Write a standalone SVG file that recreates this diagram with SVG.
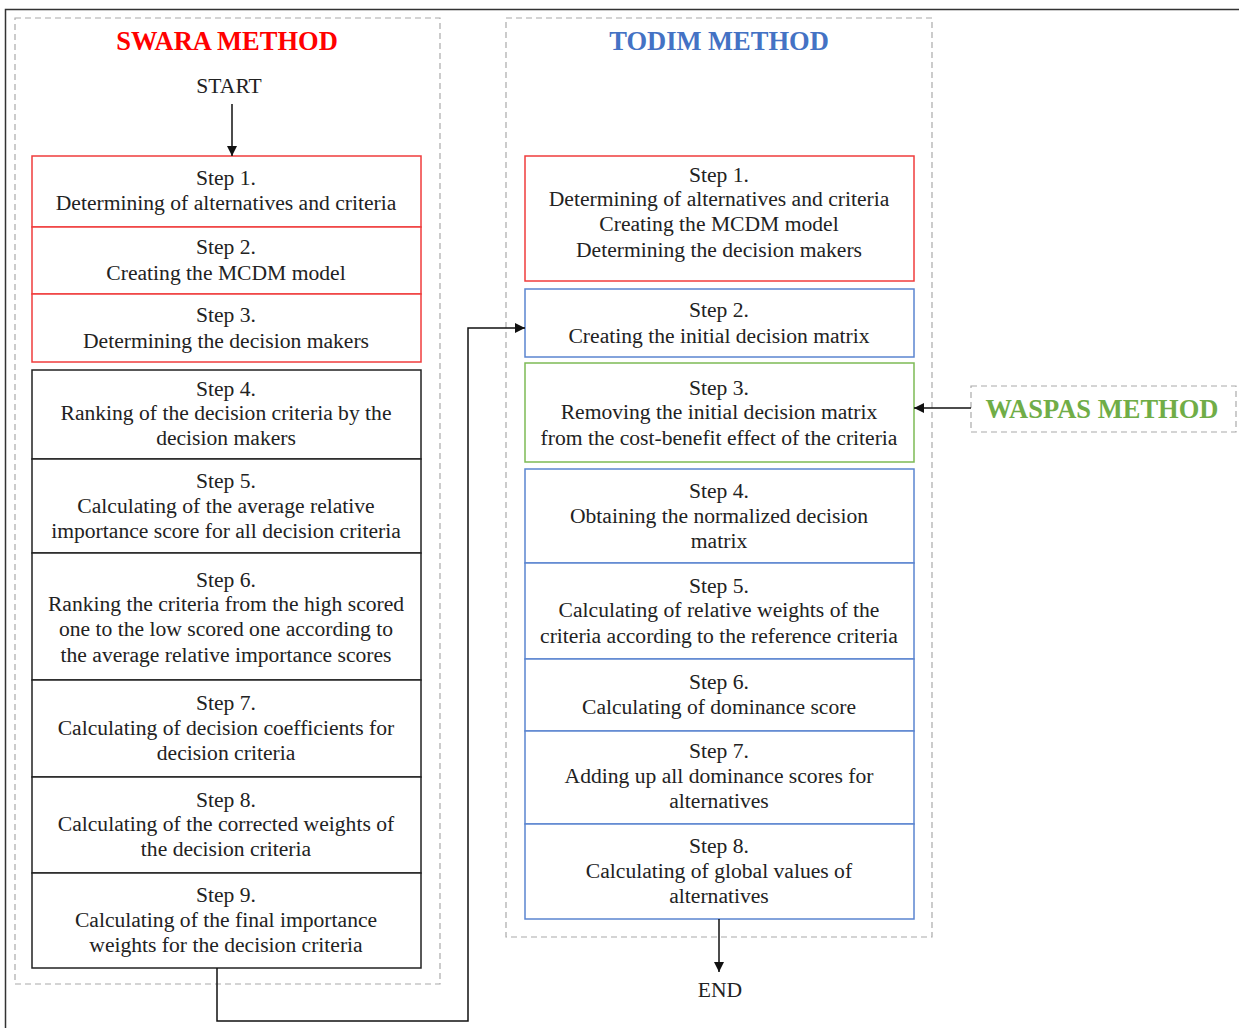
<svg xmlns="http://www.w3.org/2000/svg" width="1239" height="1028" viewBox="0 0 1239 1028">
<defs>
<style>
text{font-family:"Liberation Serif","Times New Roman",serif;font-size:21.6px;fill:#222;text-anchor:middle}
.title{font-weight:bold;font-size:26.5px}
.dash{fill:none;stroke:#aaa;stroke-width:1.2;stroke-dasharray:6,4}
.red{fill:#fff;stroke:#f03c3c;stroke-width:1.5}
.blk{fill:#fff;stroke:#222;stroke-width:1.5}
.blue{fill:#fff;stroke:#5b85d0;stroke-width:1.5}
.green{fill:#fff;stroke:#7dba55;stroke-width:1.5}
.conn{fill:none;stroke:#111;stroke-width:1.5}
</style>
<marker id="ah" viewBox="0 0 10 10" refX="10" refY="5" markerWidth="10" markerHeight="11" markerUnits="userSpaceOnUse" orient="auto">
<path d="M0,0 L10,5 L0,10 z" fill="#111"/>
</marker>
</defs>
<rect width="1239" height="1028" fill="#fff"/>
<path d="M5.5,1028 V9.5 H1239" fill="none" stroke="#333" stroke-width="1.5"/>

<g id="swara-container">
<rect class="dash" x="15" y="18" width="425" height="966"/>
<text class="title" x="227" y="50" style="fill:#ff0000">SWARA METHOD</text>
<text x="229" y="93">START</text>
</g>
<g id="todim-container">
<rect class="dash" x="506" y="18" width="426" height="919"/>
<text class="title" x="719" y="50" style="fill:#4472c4">TODIM METHOD</text>
</g>
<g id="waspas">
<rect class="dash" x="971" y="386" width="265" height="46"/>
<text class="title" x="1102" y="418" style="fill:#70ad47">WASPAS METHOD</text>
</g>

<g id="s1"><rect class="red" x="32" y="156" width="389" height="71"/><text x="226" y="185">Step 1.</text><text x="226" y="210">Determining of alternatives and criteria</text></g>
<g id="s2"><rect class="red" x="32" y="227" width="389" height="67"/><text x="226" y="254">Step 2.</text><text x="226" y="280">Creating the MCDM model</text></g>
<g id="s3"><rect class="red" x="32" y="294" width="389" height="68"/><text x="226" y="322">Step 3.</text><text x="226" y="348">Determining the decision makers</text></g>
<g id="s4"><rect class="blk" x="32" y="370" width="389" height="89"/><text x="226" y="396">Step 4.</text><text x="226" y="420">Ranking of the decision criteria by the</text><text x="226" y="445">decision makers</text></g>
<g id="s5"><rect class="blk" x="32" y="459" width="389" height="94"/><text x="226" y="488">Step 5.</text><text x="226" y="513">Calculating of the average relative</text><text x="226" y="538">importance score for all decision criteria</text></g>
<g id="s6"><rect class="blk" x="32" y="553" width="389" height="127"/><text x="226" y="587">Step 6.</text><text x="226" y="611">Ranking the criteria from the high scored</text><text x="226" y="636">one to the low scored one according to</text><text x="226" y="662">the average relative importance scores</text></g>
<g id="s7"><rect class="blk" x="32" y="680" width="389" height="97"/><text x="226" y="710">Step 7.</text><text x="226" y="735">Calculating of decision coefficients for</text><text x="226" y="760">decision criteria</text></g>
<g id="s8"><rect class="blk" x="32" y="777" width="389" height="96"/><text x="226" y="807">Step 8.</text><text x="226" y="831">Calculating of the corrected weights of</text><text x="226" y="856">the decision criteria</text></g>
<g id="s9"><rect class="blk" x="32" y="873" width="389" height="95"/><text x="226" y="902">Step 9.</text><text x="226" y="927">Calculating of the final importance</text><text x="226" y="952">weights for the decision criteria</text></g>

<g id="t1"><rect class="red" x="525" y="156" width="389" height="125"/><text x="719" y="182">Step 1.</text><text x="719" y="206">Determining of alternatives and criteria</text><text x="719" y="231">Creating the MCDM model</text><text x="719" y="257">Determining the decision makers</text></g>
<g id="t2"><rect class="blue" x="525" y="289" width="389" height="68"/><text x="719" y="317">Step 2.</text><text x="719" y="343">Creating the initial decision matrix</text></g>
<g id="t3"><rect class="green" x="525" y="363" width="389" height="99"/><text x="719" y="395">Step 3.</text><text x="719" y="419">Removing the initial decision matrix</text><text x="719" y="445">from the cost-benefit effect of the criteria</text></g>
<g id="t4"><rect class="blue" x="525" y="469" width="389" height="94"/><text x="719" y="498">Step 4.</text><text x="719" y="523">Obtaining the normalized decision</text><text x="719" y="548">matrix</text></g>
<g id="t5"><rect class="blue" x="525" y="563" width="389" height="96"/><text x="719" y="593">Step 5.</text><text x="719" y="617">Calculating of relative weights of the</text><text x="719" y="643">criteria according to the reference criteria</text></g>
<g id="t6"><rect class="blue" x="525" y="659" width="389" height="72"/><text x="719" y="689">Step 6.</text><text x="719" y="714">Calculating of dominance score</text></g>
<g id="t7"><rect class="blue" x="525" y="731" width="389" height="93"/><text x="719" y="758">Step 7.</text><text x="719" y="783">Adding up all dominance scores for</text><text x="719" y="808">alternatives</text></g>
<g id="t8"><rect class="blue" x="525" y="824" width="389" height="95"/><text x="719" y="853">Step 8.</text><text x="719" y="878">Calculating of global values of</text><text x="719" y="903">alternatives</text></g>
<g id="end"><text x="720" y="997">END</text></g>

<g id="connectors">
<path class="conn" d="M232,104 V156" marker-end="url(#ah)"/>
<path class="conn" d="M217,968 V1021 H468 V328 H525" marker-end="url(#ah)"/>
<path class="conn" d="M971,408 H914" marker-end="url(#ah)"/>
<path class="conn" d="M719,919 V972" marker-end="url(#ah)"/>
</g>
</svg>
